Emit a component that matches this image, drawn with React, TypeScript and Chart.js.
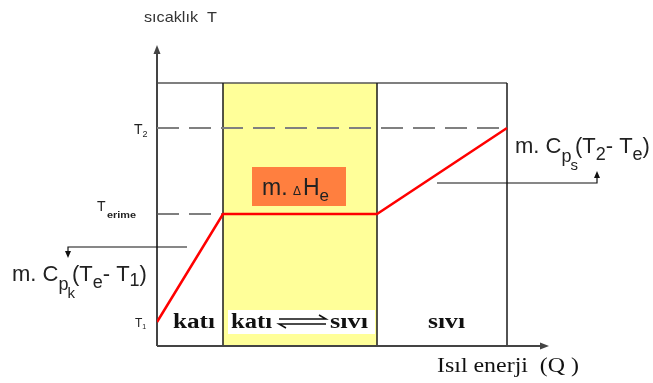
import React, { useEffect, useRef } from "react";
import { Chart, registerables } from "chart.js";
Chart.register(...registerables);

// Heat added (Q, arbitrary units) at the phase boundaries and the temperature reached
const heatQ = [0, 6.6, 22, 35];
const tempT = [2.4, 13.2, 13.2, 21.8];
// Temperature levels marked on the y axis
const tickLevels = [2.4, 13.2, 21.8];
const tickMain = ["T", "T", "T"];
const tickSub = ["1", "erime", "2"];
// Frame / axis extents
const frameTop = 26.3;
const axisMaxQ = 39;
const axisMaxT = 29.8;
// Phase labels
const phaseLabels = ["katı", "katı", "sıvı", "sıvı"];
const yTitle = "sıcaklık  T";
const xTitle = "Isıl enerji  (Q )";

type Run = { t: string; size: number; dy?: number; dx?: number };

function drawRuns(ctx: CanvasRenderingContext2D, runs: Run[], x: number, y: number, family: string, color: string) {
  let cx = x;
  ctx.fillStyle = color;
  ctx.textAlign = "left";
  ctx.textBaseline = "alphabetic";
  for (const r of runs) {
    ctx.font = `${r.size}px ${family}`;
    cx += r.dx || 0;
    ctx.fillText(r.t, cx, y + (r.dy || 0));
    cx += ctx.measureText(r.t).width;
  }
}

function fitText(ctx: CanvasRenderingContext2D, text: string, x: number, y: number, width: number, font: string, color: string) {
  ctx.font = font;
  ctx.fillStyle = color;
  ctx.textAlign = "left";
  ctx.textBaseline = "alphabetic";
  const w = ctx.measureText(text).width;
  ctx.save();
  ctx.translate(x, y);
  ctx.scale(width / w, 1);
  ctx.fillText(text, 0, 0);
  ctx.restore();
}

const diagramPlugin = {
  id: "diagram",
  beforeDatasetsDraw(chart: any) {
    const ctx: CanvasRenderingContext2D = chart.ctx;
    const xs = chart.scales.x;
    const ys = chart.scales.y;
    const X = (v: number) => xs.getPixelForValue(v);
    const Y = (v: number) => ys.getPixelForValue(v);
    ctx.save();
    // yellow two-phase band
    ctx.fillStyle = "#ffff99";
    ctx.fillRect(X(heatQ[1]), Y(frameTop), X(heatQ[2]) - X(heatQ[1]), Y(0) - Y(frameTop));
    // frame
    ctx.strokeStyle = "#555555";
    ctx.lineWidth = 1.5;
    ctx.beginPath();
    ctx.moveTo(X(0), Y(frameTop));
    ctx.lineTo(X(heatQ[3]), Y(frameTop));
    ctx.stroke();
    ctx.strokeStyle = "#1a1a1a";
    for (const q of [heatQ[1], heatQ[2], heatQ[3]]) {
      ctx.beginPath();
      ctx.moveTo(X(q), Y(0));
      ctx.lineTo(X(q), Y(frameTop));
      ctx.stroke();
    }
    // axes
    ctx.strokeStyle = "#444444";
    ctx.fillStyle = "#444444";
    ctx.lineWidth = 2;
    ctx.beginPath();
    ctx.moveTo(X(0), Y(0));
    ctx.lineTo(X(0), Y(axisMaxT) + 4);
    ctx.moveTo(X(0), Y(0));
    ctx.lineTo(X(axisMaxQ) - 4, Y(0));
    ctx.stroke();
    ctx.beginPath();
    ctx.moveTo(X(0), Y(axisMaxT) - 3);
    ctx.lineTo(X(0) - 3.5, Y(axisMaxT) + 6);
    ctx.lineTo(X(0) + 3.5, Y(axisMaxT) + 6);
    ctx.closePath();
    ctx.fill();
    ctx.beginPath();
    ctx.moveTo(X(axisMaxQ) + 2, Y(0));
    ctx.lineTo(X(axisMaxQ) - 7, Y(0) - 3.5);
    ctx.lineTo(X(axisMaxQ) - 7, Y(0) + 3.5);
    ctx.closePath();
    ctx.fill();
    ctx.restore();
  },
  afterDatasetsDraw(chart: any) {
    const ctx: CanvasRenderingContext2D = chart.ctx;
    const xs = chart.scales.x;
    const ys = chart.scales.y;
    const X = (v: number) => xs.getPixelForValue(v);
    const Y = (v: number) => ys.getPixelForValue(v);
    const sans = "'Liberation Sans', Arial, sans-serif";
    const serif = "'Liberation Serif', 'Times New Roman', serif";
    ctx.save();

    // y tick labels
    const x0 = X(0);
    // T1
    drawRuns(ctx, [{ t: tickMain[0], size: 12 }, { t: tickSub[0], size: 7, dy: 2 }], x0 - 22, Y(tickLevels[0]) + 5, sans, "#222");
    // T erime
    ctx.fillStyle = "#222";
    ctx.font = `14px ${sans}`;
    ctx.fillText(tickMain[1], x0 - 60, Y(tickLevels[1]) - 3);
    fitText(ctx, tickSub[1], x0 - 50, Y(tickLevels[1]) + 4, 29, `bold 9px ${sans}`, "#222");
    // T2
    drawRuns(ctx, [{ t: tickMain[2], size: 14 }, { t: tickSub[2], size: 9, dy: 3 }], x0 - 23, Y(tickLevels[2]) + 6, sans, "#222");

    // axis titles
    fitText(ctx, yTitle, 144, 22, 73, `15px ${sans}`, "#333");
    fitText(ctx, xTitle, 437, 372, 142, `21px ${serif}`, "#111");

    // orange latent heat box
    ctx.fillStyle = "#ff7f3f";
    ctx.fillRect(252, 167, 94, 39);
    drawRuns(ctx, [
      { t: "m. ", size: 23 },
      { t: "Δ", size: 12, dx: -1 },
      { t: "H", size: 23, dx: 2 },
      { t: "e", size: 17, dy: 6 },
    ], 262, 195, sans, "#222");

    // white label box in two-phase band
    ctx.fillStyle = "#ffffff";
    ctx.fillRect(228, 310, 147, 24);

    // phase labels
    const bold = `bold 20px ${serif}`;
    fitText(ctx, phaseLabels[0], 173, 328, 42, bold, "#111");
    fitText(ctx, phaseLabels[1], 231, 328, 41, bold, "#111");
    fitText(ctx, phaseLabels[2], 330, 328, 38, bold, "#111");
    fitText(ctx, phaseLabels[3], 428, 328, 37, bold, "#111");

    // equilibrium harpoons
    ctx.strokeStyle = "#111";
    ctx.lineWidth = 1.5;
    ctx.beginPath();
    ctx.moveTo(279, 319);
    ctx.lineTo(326, 319);
    ctx.lineTo(319, 315);
    ctx.moveTo(326, 324);
    ctx.lineTo(279, 324);
    ctx.lineTo(286, 328);
    ctx.stroke();

    // sensible heat annotations
    const annoRunsLeft: Run[] = [
      { t: "m. C", size: 22 },
      { t: "p", size: 18, dy: 9 },
      { t: "k", size: 15, dy: 17, dx: -1 },
      { t: "(T", size: 22, dx: -3 },
      { t: "e", size: 18, dy: 7 },
      { t: "- T", size: 22 },
      { t: "1", size: 18, dy: 5 },
      { t: ")", size: 22 },
    ];
    drawRuns(ctx, annoRunsLeft, 12, 281, sans, "#222");
    const annoRunsRight: Run[] = [
      { t: "m. C", size: 22 },
      { t: "p", size: 18, dy: 9 },
      { t: "s", size: 15, dy: 17, dx: -1 },
      { t: "(T", size: 22, dx: -3 },
      { t: "2", size: 18, dy: 7 },
      { t: "- T", size: 22 },
      { t: "e", size: 18, dy: 7 },
      { t: ")", size: 22 },
    ];
    drawRuns(ctx, annoRunsRight, 515, 153, sans, "#222");

    // annotation arrows
    ctx.strokeStyle = "#111";
    ctx.fillStyle = "#111";
    ctx.lineWidth = 1.2;
    ctx.beginPath();
    ctx.moveTo(187, 247);
    ctx.lineTo(68, 247);
    ctx.lineTo(68, 253);
    ctx.moveTo(437, 183);
    ctx.lineTo(597, 183);
    ctx.lineTo(597, 176);
    ctx.stroke();
    ctx.beginPath();
    ctx.moveTo(68, 258);
    ctx.lineTo(65, 251);
    ctx.lineTo(71, 251);
    ctx.closePath();
    ctx.moveTo(597, 171);
    ctx.lineTo(594, 178);
    ctx.lineTo(600, 178);
    ctx.closePath();
    ctx.fill();

    ctx.restore();
  },
};

export default function App() {
  const ref = useRef<HTMLCanvasElement | null>(null);
  useEffect(() => {
    if (!ref.current) return;
    const pts = heatQ.map((q, i) => ({ x: q, y: tempT[i] }));
    const chart = new Chart(ref.current, {
      type: "line",
      data: {
        datasets: [
          {
            data: pts,
            borderColor: "#ff0000",
            borderWidth: 2.5,
            pointRadius: 0,
            tension: 0,
          },
          {
            data: [{ x: 0, y: tickLevels[2] }, { x: heatQ[3], y: tickLevels[2] }],
            borderColor: "#808080",
            borderWidth: 2,
            borderDash: [22, 10],
            pointRadius: 0,
          },
          {
            data: [{ x: 0, y: tickLevels[1] }, { x: heatQ[1], y: tickLevels[1] }],
            borderColor: "#555555",
            borderWidth: 1.5,
            borderDash: [22, 10],
            pointRadius: 0,
          },
        ],
      },
      options: {
        responsive: false,
        animation: false,
        layout: { padding: { left: 157, right: 106, top: 48, bottom: 37 } },
        plugins: { legend: { display: false }, tooltip: { enabled: false } },
        scales: {
          x: { type: "linear", min: 0, max: axisMaxQ, display: false },
          y: { type: "linear", min: 0, max: axisMaxT, display: false },
        },
      },
      plugins: [diagramPlugin],
    } as any);
    return () => chart.destroy();
  }, []);
  return (
    <div style={{ position: "fixed", left: 0, top: 0, width: 653, height: 383, background: "#fff" }}>
      <canvas ref={ref} width={653} height={383} style={{ width: 653, height: 383 }} />
    </div>
  );
}
